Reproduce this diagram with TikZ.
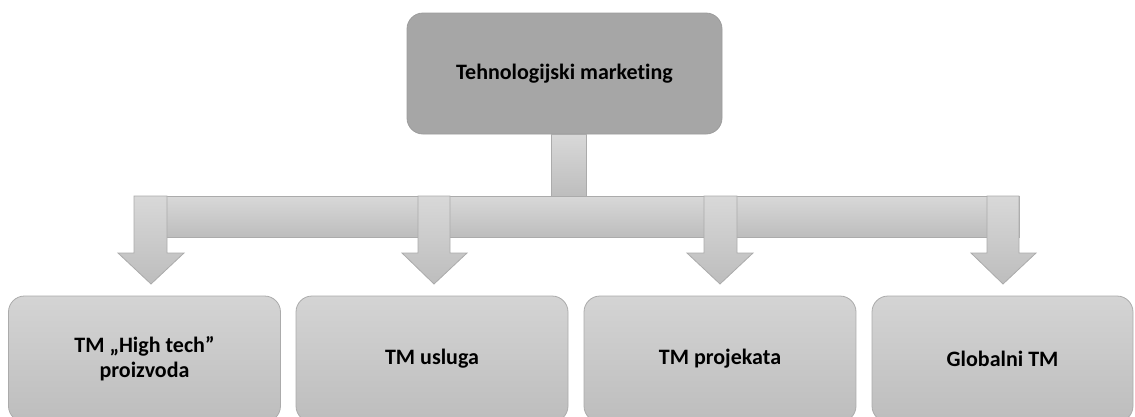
\documentclass[tikz,border=0pt]{standalone}
\usepackage{fontspec}
\setmainfont[Ligatures={NoCommon}]{Carlito}
\definecolor{boxtop}{HTML}{D4D4D4}
\definecolor{boxbot}{HTML}{BDBDBD}
\definecolor{edge}{HTML}{ABABAB}
\definecolor{topfill}{HTML}{A6A6A6}
\definecolor{topedge}{HTML}{9C9C9C}
\tikzset{
  topbox/.style={draw=topedge, line width=0.8pt, fill=topfill, rounded corners=16pt,
    minimum width=315pt, minimum height=121pt, inner sep=0pt,
    font=\fontsize{22}{26}\selectfont\bfseries},
  leafbox/.style={draw=edge, line width=0.8pt, top color=boxtop, bottom color=boxbot,
    rounded corners=16pt, minimum width=272pt, minimum height=126pt, inner sep=0pt,
    align=center, font=\fontsize{22}{25}\selectfont\bfseries},
  blockarrow/.style={draw=edge, line width=0.8pt, top color=boxtop!90!white, bottom color=boxbot},
}
\begin{document}
\begin{tikzpicture}[x=1pt,y=-1pt]
\useasboundingbox (0,0) rectangle (1135,416);
\clip (0,0) rectangle (1135,416);
% nodes
\node[topbox] (top) at (564.5,73.5) {Tehnologijski marketing};
\node[leafbox] (b1) at (144.5,359) {TM „High tech”\\proizvoda};
\node[leafbox] (b2) at (432,359) {TM usluga};
\node[leafbox] (b3) at (720,359) {TM projekata};
\node[leafbox, minimum width=261pt] (b4) at (1002.5,359) {Globalni TM};
% stem
\coordinate (stemL) at (551,134);
\draw[blockarrow] (top.south -| stemL) rectangle (586,197);
% bar
\draw[blockarrow] (134,196) rectangle (1019,237);
% block arrows
\foreach \n/\xl/\xr/\hl/\hr/\tx in {1/134/167/118/184/151, 2/418/450/402/467/434, 3/704/737/687/753/720, 4/987/1019/971/1036/1003}{
  \coordinate (tip\n) at (\tx,284);
  \draw[blockarrow] (\xl,196) -- (\xr,196) -- (\xr,253) -- (\hr,253) -- (tip\n) -- (\hl,253) -- (\xl,253) -- cycle;
}
\end{tikzpicture}
\end{document}
